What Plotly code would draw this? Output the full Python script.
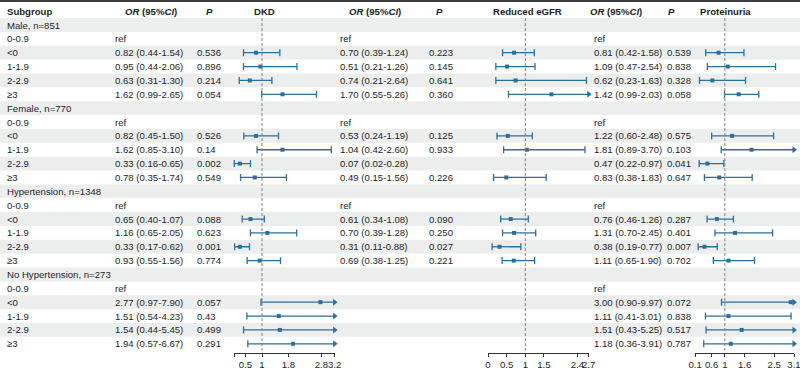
import plotly.graph_objects as go

# ---------------- data ----------------
groups = ["Male, n=851", "Female, n=770", "Hypertension, n=1348", "No Hypertension, n=273"]
levels = ["0-0.9", "<0", "1-1.9", "2-2.9", "≥3"]

# DKD (20 entries: 4 groups x 5 levels; None = reference level)
dkd_est = [None, 0.82, 0.95, 0.63, 1.62, None, 0.82, 1.62, 0.33, 0.78,
           None, 0.65, 1.16, 0.33, 0.93, None, 2.77, 1.51, 1.54, 1.94]
dkd_lo = [None, 0.44, 0.44, 0.31, 0.99, None, 0.45, 0.85, 0.16, 0.35,
          None, 0.40, 0.65, 0.17, 0.55, None, 0.97, 0.54, 0.44, 0.57]
dkd_hi = [None, 1.54, 2.06, 1.30, 2.65, None, 1.50, 3.10, 0.65, 1.74,
          None, 1.07, 2.05, 0.62, 1.56, None, 7.90, 4.23, 5.45, 6.67]
dkd_p = ["", "0.536", "0.896", "0.214", "0.054", "", "0.526", "0.14", "0.002", "0.549",
         "", "0.088", "0.623", "0.001", "0.774", "", "0.057", "0.43", "0.499", "0.291"]
dkd_ref = [True, True, True, True]
dkd_drawn = [True] * 20

# Reduced eGFR
egfr_est = [None, 0.70, 0.51, 0.74, 1.70, None, 0.53, 1.04, 0.07, 0.49,
            None, 0.61, 0.70, 0.31, 0.69, None, None, None, None, None]
egfr_lo = [None, 0.39, 0.21, 0.21, 0.55, None, 0.24, 0.42, 0.02, 0.15,
           None, 0.34, 0.39, 0.11, 0.38, None, None, None, None, None]
egfr_hi = [None, 1.24, 1.26, 2.64, 5.26, None, 1.19, 2.60, 0.28, 1.56,
           None, 1.08, 1.28, 0.88, 1.25, None, None, None, None, None]
egfr_p = ["", "0.223", "0.145", "0.641", "0.360", "", "0.125", "0.933", "", "0.226",
          "", "0.090", "0.250", "0.027", "0.221", "", "", "", "", ""]
egfr_ref = [True, True, True, False]
egfr_drawn = [True] * 8 + [False] + [True] * 11

# Proteinuria
prot_est = [None, 0.81, 1.09, 0.62, 1.42, None, 1.22, 1.81, 0.47, 0.83,
            None, 0.76, 1.31, 0.38, 1.11, None, 3.00, 1.11, 1.51, 1.18]
prot_lo = [None, 0.42, 0.47, 0.23, 0.99, None, 0.60, 0.89, 0.22, 0.38,
           None, 0.46, 0.70, 0.19, 0.65, None, 0.90, 0.41, 0.43, 0.36]
prot_hi = [None, 1.58, 2.54, 1.63, 2.03, None, 2.48, 3.70, 0.97, 1.83,
           None, 1.26, 2.45, 0.77, 1.90, None, 9.97, 3.01, 5.25, 3.91]
prot_p = ["", "0.539", "0.838", "0.328", "0.058", "", "0.575", "0.103", "0.041", "0.647",
          "", "0.287", "0.401", "0.007", "0.702", "", "0.072", "0.838", "0.517", "0.787"]
prot_ref = [True, True, True, True]
prot_drawn = [True] * 20

# axis settings
dkd_range = [0.16, 3.2]
dkd_ticks = [0.16, 0.5, 1, 1.8, 2.8, 3.2]
dkd_ticktext = ["", "0.5", "1", "1.8", "2.8", "3.2"]
egfr_range = [0, 2.7]
egfr_ticks = [0, 0.5, 1, 1.5, 2.4, 2.7]
egfr_ticktext = ["0", "0.5", "1", "1.5", "2.4", "2.7"]
prot_range = [0.1, 3.1]
prot_ticks = [0.1, 0.6, 1, 1.6, 2.5, 3.1]
prot_ticktext = ["0.1", "0.6", "1", "1.6", "2.5", "3.1"]

# ---------------- layout helpers ----------------
W, H = 800, 370
COL = "#2C6E9C"
TXT = "#1e1e1e"
SHADE = "#ECEEEE"
FONT = "Liberation Sans, Arial, Helvetica, sans-serif"
FS = 9.6

n_rows = len(groups) * (len(levels) + 1)  # 24
row_top_px, row_step_px = 11.14, 13.86
axis_px = 352.5
y_top = (0 - row_top_px) / row_step_px
y_bot = (axis_px - row_top_px) / row_step_px


def row_of(i):
    g, k = divmod(i, len(levels))
    return 1 + g * (len(levels) + 1) + 1 + k


def group_row(g):
    return 1 + g * (len(levels) + 1)


fig = go.Figure()

annotations = []


def txt(xpx, r, s, anchor="left", bold=False, size=FS):
    if bold:
        s = "<b>" + s + "</b>"
    annotations.append(dict(x=xpx / W, xref="paper", y=r, yref="y", text=s,
                            showarrow=False, xanchor=anchor, yanchor="middle",
                            font=dict(family=FONT, size=size, color=TXT)))


# headers
txt(5, 0, "Subgroup", bold=True)
txt(123, 0, "<i>OR</i> (95%<i>CI</i>)", bold=True)
txt(204, 0, "<i>P</i>", bold=True)
txt(264, 0, "DKD", anchor="center", bold=True)
txt(347, 0, "<i>OR</i> (95%<i>CI</i>)", bold=True)
txt(434, 0, "<i>P</i>", bold=True)
txt(527, 0, "Reduced eGFR", anchor="center", bold=True)
txt(588, 0, "<i>OR</i> (95%<i>CI</i>)", bold=True)
txt(666, 0, "<i>P</i>", bold=True)
txt(725, 0, "Proteinuria", anchor="center", bold=True)

# subgroup labels
for g, name in enumerate(groups):
    txt(5, group_row(g), name)
    for k, lev in enumerate(levels):
        txt(5, group_row(g) + 1 + k, lev)

outcomes = [
    (dkd_est, dkd_lo, dkd_hi, dkd_p, dkd_ref, dkd_drawn, 113, 195, "x", dkd_range),
    (egfr_est, egfr_lo, egfr_hi, egfr_p, egfr_ref, egfr_drawn, 338, 427, "x2", egfr_range),
    (prot_est, prot_lo, prot_hi, prot_p, prot_ref, prot_drawn, 592, 665, "x3", prot_range),
]

for est, lo, hi, pv, ref, drawn, or_x, p_x, xa, rng in outcomes:
    lx, ly, cx, cy, ax, ay, px, py = [], [], [], [], [], [], [], []
    for i in range(len(est)):
        r = row_of(i)
        g = i // len(levels)
        if est[i] is None:
            if i % len(levels) == 0 and ref[g]:
                txt(or_x, r, "ref")
            continue
        txt(or_x, r, f"{est[i]:.2f} ({lo[i]:.2f}-{hi[i]:.2f})")
        if pv[i]:
            txt(p_x, r, pv[i])
        if not drawn[i]:
            continue
        h = min(hi[i], rng[1])
        lx += [lo[i], h, None]
        ly += [r, r, None]
        cx.append(lo[i]); cy.append(r)
        if hi[i] > rng[1]:
            ax.append(rng[1]); ay.append(r)
        else:
            cx.append(hi[i]); cy.append(r)
        px.append(est[i]); py.append(r)
    fig.add_trace(go.Scatter(x=lx, y=ly, mode="lines", xaxis=xa, yaxis="y",
                             line=dict(color=COL, width=1.3), hoverinfo="skip",
                             showlegend=False, cliponaxis=False))
    fig.add_trace(go.Scatter(x=cx, y=cy, mode="markers", xaxis=xa, yaxis="y",
                             marker=dict(symbol="line-ns-open", size=5, color=COL,
                                         line=dict(color=COL, width=1.3)),
                             hoverinfo="skip", showlegend=False, cliponaxis=False))
    fig.add_trace(go.Scatter(x=ax, y=ay, mode="markers", xaxis=xa, yaxis="y",
                             marker=dict(symbol="triangle-right", size=6, color=COL),
                             hoverinfo="skip", showlegend=False, cliponaxis=False))
    fig.add_trace(go.Scatter(x=px, y=py, mode="markers", xaxis=xa, yaxis="y",
                             marker=dict(symbol="square", size=4, color=COL),
                             hoverinfo="skip", showlegend=False, cliponaxis=False))

shapes = []
# zebra shading
for r in range(1, n_rows + 1, 2):
    shapes.append(dict(type="rect", xref="paper", x0=0, x1=1, yref="y",
                       y0=r - 0.5, y1=r + 0.5, fillcolor=SHADE,
                       line=dict(width=0), layer="below"))
# top rule
shapes.append(dict(type="line", xref="paper", x0=0, x1=1, yref="paper",
                   y0=1 - 1 / H, y1=1 - 1 / H, line=dict(color="#3a3a3a", width=2)))
# reference lines at OR = 1
for xa in ["x", "x2", "x3"]:
    shapes.append(dict(type="line", xref=xa, x0=1, x1=1, yref="y",
                       y0=0.5, y1=n_rows + 0.5,
                       line=dict(color="#808080", width=1, dash="3px,2px")))


def xaxis(dom_px, rng, tv, tt):
    return dict(domain=[dom_px[0] / W, dom_px[1] / W], range=rng, anchor="y",
                showline=True, linecolor="#333333", linewidth=1,
                ticks="outside", ticklen=3, tickcolor="#333333", tickwidth=1,
                tickvals=tv, ticktext=tt, showgrid=False, zeroline=False,
                tickangle=0, ticklabeloverflow="allow",
                tickfont=dict(family=FONT, size=9.6, color=TXT),
                automargin=False, fixedrange=True)


fig.update_layout(
    width=W, height=H,
    margin=dict(l=0, r=0, t=0, b=0, pad=0),
    paper_bgcolor="white", plot_bgcolor="rgba(0,0,0,0)",
    xaxis=xaxis([234.3, 334.6], dkd_range, dkd_ticks, dkd_ticktext),
    xaxis2=xaxis([488, 588.7], egfr_range, egfr_ticks, egfr_ticktext),
    xaxis3=xaxis([695.2, 794], prot_range, prot_ticks, prot_ticktext),
    yaxis=dict(domain=[(H - axis_px) / H, 1], range=[y_bot, y_top], visible=False,
               showgrid=False, zeroline=False, fixedrange=True),
    shapes=shapes,
    annotations=annotations,
    showlegend=False,
)

fig.write_html("out.html", config={"displayModeBar": False},
               post_script="document.body.style.margin='0';document.body.style.padding='0';"
                           "document.body.style.overflow='hidden';")
